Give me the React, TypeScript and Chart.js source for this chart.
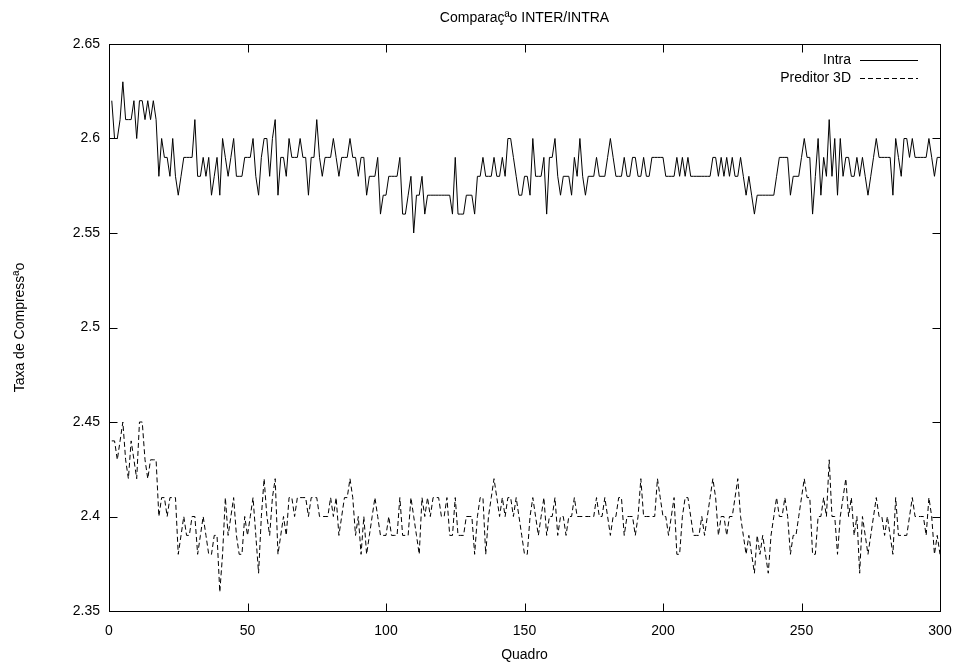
import { useEffect, useRef } from "react";
import { Chart, registerables } from "chart.js";
Chart.register(...registerables);

const chartTitle = "Comparaçªo INTER/INTRA";
const xTitle = "Quadro";
const yTitle = "Taxa de Compressªo";
const seriesLabels = ["Intra", "Preditor 3D"];
const xTicks = [0, 50, 100, 150, 200, 250, 300];
const yTicks = [2.35, 2.4, 2.45, 2.5, 2.55, 2.6, 2.65];

const intra = [
  2.62, 2.60, 2.60, 2.61, 2.63, 2.61, 2.61, 2.61, 2.62, 2.60,
  2.62, 2.62, 2.61, 2.62, 2.61, 2.62, 2.61, 2.58, 2.60, 2.59,
  2.59, 2.58, 2.60, 2.58, 2.57, 2.58, 2.59, 2.59, 2.59, 2.59,
  2.61, 2.58, 2.58, 2.59, 2.58, 2.59, 2.57, 2.58, 2.59, 2.57,
  2.60, 2.59, 2.58, 2.59, 2.60, 2.58, 2.58, 2.58, 2.59, 2.59,
  2.59, 2.60, 2.58, 2.57, 2.59, 2.60, 2.60, 2.58, 2.60, 2.61,
  2.57, 2.59, 2.59, 2.58, 2.60, 2.59, 2.59, 2.59, 2.60, 2.59,
  2.59, 2.57, 2.59, 2.59, 2.61, 2.59, 2.58, 2.59, 2.59, 2.59,
  2.60, 2.59, 2.58, 2.59, 2.59, 2.59, 2.60, 2.59, 2.59, 2.58,
  2.59, 2.59, 2.57, 2.58, 2.58, 2.58, 2.59, 2.56, 2.57, 2.57,
  2.58, 2.58, 2.58, 2.58, 2.59, 2.56, 2.56, 2.57, 2.58, 2.55,
  2.57, 2.57, 2.58, 2.56, 2.57, 2.57, 2.57, 2.57, 2.57, 2.57,
  2.57, 2.57, 2.57, 2.56, 2.59, 2.56, 2.56, 2.56, 2.57, 2.57,
  2.57, 2.56, 2.58, 2.58, 2.59, 2.58, 2.58, 2.58, 2.59, 2.58,
  2.58, 2.59, 2.58, 2.60, 2.60, 2.59, 2.58, 2.57, 2.57, 2.58,
  2.58, 2.57, 2.60, 2.58, 2.58, 2.58, 2.59, 2.56, 2.59, 2.59,
  2.60, 2.58, 2.57, 2.58, 2.58, 2.58, 2.57, 2.59, 2.58, 2.60,
  2.58, 2.57, 2.58, 2.58, 2.58, 2.59, 2.58, 2.58, 2.58, 2.59,
  2.60, 2.59, 2.58, 2.58, 2.58, 2.59, 2.58, 2.58, 2.59, 2.59,
  2.58, 2.58, 2.59, 2.58, 2.58, 2.59, 2.59, 2.59, 2.59, 2.59,
  2.58, 2.58, 2.58, 2.58, 2.59, 2.58, 2.59, 2.58, 2.59, 2.58,
  2.58, 2.58, 2.58, 2.58, 2.58, 2.58, 2.58, 2.59, 2.59, 2.58,
  2.59, 2.58, 2.59, 2.58, 2.59, 2.58, 2.58, 2.59, 2.58, 2.57,
  2.58, 2.57, 2.56, 2.57, 2.57, 2.57, 2.57, 2.57, 2.57, 2.57,
  2.58, 2.59, 2.59, 2.59, 2.59, 2.57, 2.58, 2.58, 2.58, 2.59,
  2.60, 2.59, 2.59, 2.56, 2.58, 2.60, 2.57, 2.59, 2.58, 2.61,
  2.58, 2.60, 2.57, 2.60, 2.58, 2.59, 2.59, 2.58, 2.58, 2.59,
  2.58, 2.59, 2.58, 2.57, 2.58, 2.59, 2.60, 2.59, 2.59, 2.59,
  2.59, 2.59, 2.57, 2.60, 2.59, 2.58, 2.60, 2.60, 2.59, 2.60,
  2.59, 2.59, 2.59, 2.59, 2.59, 2.60, 2.59, 2.58, 2.59, 2.59,
];

const preditor3d = [
  2.44, 2.44, 2.43, 2.44, 2.45, 2.43, 2.42, 2.44, 2.43, 2.42,
  2.45, 2.45, 2.43, 2.42, 2.43, 2.43, 2.43, 2.40, 2.41, 2.41,
  2.40, 2.41, 2.41, 2.41, 2.38, 2.39, 2.40, 2.39, 2.39, 2.40,
  2.40, 2.38, 2.39, 2.40, 2.39, 2.38, 2.38, 2.39, 2.39, 2.36,
  2.38, 2.41, 2.39, 2.40, 2.41, 2.39, 2.38, 2.38, 2.40, 2.39,
  2.40, 2.41, 2.39, 2.37, 2.40, 2.42, 2.40, 2.39, 2.41, 2.42,
  2.38, 2.39, 2.40, 2.39, 2.41, 2.41, 2.40, 2.41, 2.41, 2.41,
  2.41, 2.40, 2.41, 2.41, 2.41, 2.40, 2.40, 2.40, 2.40, 2.41,
  2.40, 2.41, 2.39, 2.40, 2.41, 2.41, 2.42, 2.41, 2.39, 2.40,
  2.38, 2.40, 2.38, 2.39, 2.40, 2.41, 2.40, 2.39, 2.39, 2.39,
  2.40, 2.39, 2.39, 2.39, 2.41, 2.39, 2.39, 2.39, 2.41, 2.40,
  2.39, 2.38, 2.41, 2.40, 2.41, 2.40, 2.41, 2.41, 2.41, 2.40,
  2.40, 2.41, 2.39, 2.39, 2.41, 2.39, 2.39, 2.39, 2.40, 2.40,
  2.40, 2.38, 2.40, 2.41, 2.41, 2.38, 2.40, 2.41, 2.42, 2.41,
  2.40, 2.41, 2.40, 2.41, 2.41, 2.40, 2.41, 2.40, 2.39, 2.38,
  2.38, 2.40, 2.41, 2.40, 2.39, 2.40, 2.41, 2.39, 2.40, 2.40,
  2.41, 2.39, 2.40, 2.40, 2.39, 2.40, 2.40, 2.41, 2.40, 2.40,
  2.40, 2.40, 2.40, 2.40, 2.40, 2.41, 2.40, 2.40, 2.41, 2.40,
  2.39, 2.40, 2.40, 2.41, 2.41, 2.39, 2.40, 2.40, 2.40, 2.39,
  2.40, 2.42, 2.40, 2.40, 2.40, 2.40, 2.40, 2.42, 2.41, 2.40,
  2.40, 2.39, 2.40, 2.41, 2.38, 2.38, 2.40, 2.41, 2.41, 2.40,
  2.39, 2.39, 2.39, 2.40, 2.39, 2.40, 2.41, 2.42, 2.41, 2.39,
  2.40, 2.40, 2.39, 2.40, 2.40, 2.41, 2.42, 2.40, 2.39, 2.38,
  2.39, 2.38, 2.37, 2.39, 2.38, 2.39, 2.38, 2.37, 2.39, 2.40,
  2.41, 2.40, 2.40, 2.41, 2.40, 2.38, 2.39, 2.39, 2.40, 2.41,
  2.42, 2.41, 2.41, 2.38, 2.38, 2.40, 2.40, 2.41, 2.40, 2.43,
  2.40, 2.40, 2.38, 2.40, 2.41, 2.42, 2.40, 2.41, 2.39, 2.40,
  2.37, 2.40, 2.39, 2.38, 2.39, 2.40, 2.41, 2.40, 2.40, 2.39,
  2.40, 2.39, 2.38, 2.41, 2.39, 2.39, 2.39, 2.39, 2.40, 2.41,
  2.40, 2.40, 2.40, 2.40, 2.39, 2.41, 2.40, 2.38, 2.39, 2.38,
];

const FONT = "'Liberation Sans', Arial, Helvetica, sans-serif";

const framePlugin = {
  id: "gnuplotFrame",
  afterDatasetsDraw(chart: any) {
    const { ctx, chartArea: a, scales } = chart;
    const L = Math.round(a.left) + 0.5;
    const R = Math.round(a.right) + 0.5;
    const T = Math.round(a.top) + 0.5;
    const B = Math.round(a.bottom) + 0.5;
    ctx.save();
    ctx.strokeStyle = "#000";
    ctx.lineWidth = 1;
    ctx.setLineDash([]);
    ctx.strokeRect(L, T, R - L, B - T);
    const tl = 8;
    ctx.beginPath();
    for (const v of xTicks) {
      const x = Math.round(scales.x.getPixelForValue(v)) + 0.5;
      ctx.moveTo(x, B); ctx.lineTo(x, B - tl);
      ctx.moveTo(x, T); ctx.lineTo(x, T + tl);
    }
    for (const v of yTicks) {
      const y = Math.round(scales.y.getPixelForValue(v)) + 0.5;
      ctx.moveTo(L, y); ctx.lineTo(L + tl, y);
      ctx.moveTo(R, y); ctx.lineTo(R - tl, y);
    }
    ctx.stroke();

    ctx.fillStyle = "#000";
    ctx.font = `14px ${FONT}`;
    ctx.textAlign = "center";
    ctx.textBaseline = "middle";
    ctx.fillText(chartTitle, (a.left + a.right) / 2, 18);
    ctx.fillText(xTitle, (a.left + a.right) / 2, 655);
    ctx.save();
    ctx.translate(20, (a.top + a.bottom) / 2);
    ctx.rotate(-Math.PI / 2);
    ctx.fillText(yTitle, 0, 0);
    ctx.restore();

    // legend
    const dashes = [[], [5, 3]];
    seriesLabels.forEach((lab, i) => {
      const y = 60 + i * 18;
      ctx.textAlign = "right";
      ctx.fillText(lab, 851, y);
      ctx.beginPath();
      ctx.setLineDash(dashes[i]);
      ctx.moveTo(860, Math.round(y) + 0.5);
      ctx.lineTo(918, Math.round(y) + 0.5);
      ctx.stroke();
    });
    ctx.restore();
  },
};

export default function App() {
  const ref = useRef<HTMLCanvasElement>(null);
  useEffect(() => {
    if (!ref.current) return;
    const chart = new Chart(ref.current, {
      type: "line",
      data: {
        datasets: [
          {
            label: seriesLabels[0],
            data: intra.map((v, i) => ({ x: i + 1, y: v })),
            borderColor: "#000",
            borderWidth: 1,
            pointRadius: 0,
            tension: 0,
            fill: false,
          },
          {
            label: seriesLabels[1],
            data: preditor3d.map((v, i) => ({ x: i + 1, y: v })),
            borderColor: "#000",
            borderWidth: 1,
            borderDash: [5, 3],
            pointRadius: 0,
            tension: 0,
            fill: false,
          },
        ],
      },
      options: {
        animation: false,
        responsive: false,
        layout: { padding: { top: 44, right: 24, left: 0, bottom: 0 } },
        plugins: { legend: { display: false }, title: { display: false }, tooltip: { enabled: false } },
        scales: {
          x: {
            type: "linear",
            min: 0,
            max: 300,
            grid: { display: false, drawTicks: false },
            border: { display: false },
            afterBuildTicks: (s: any) => { s.ticks = xTicks.map((v) => ({ value: v })); },
            afterFit: (s: any) => { s.height = 61; },
            ticks: {
              color: "#000",
              font: { family: FONT, size: 14 },
              padding: 12,
              maxRotation: 0,
              callback: (v: any) => String(v),
            },
          },
          y: {
            type: "linear",
            min: 2.35,
            max: 2.65,
            grid: { display: false, drawTicks: false },
            border: { display: false },
            afterBuildTicks: (s: any) => { s.ticks = yTicks.map((v) => ({ value: v })); },
            afterFit: (s: any) => { s.width = 109; },
            ticks: {
              color: "#000",
              font: { family: FONT, size: 14 },
              padding: 9,
              callback: (v: any) => String(Number(Number(v).toFixed(2))),
            },
          },
        },
      },
      plugins: [framePlugin],
    });
    return () => chart.destroy();
  }, []);
  return (
    <div style={{ position: "absolute", left: 0, top: 0, width: 964, height: 672, background: "#fff" }}>
      <canvas ref={ref} width={964} height={672} />
    </div>
  );
}
